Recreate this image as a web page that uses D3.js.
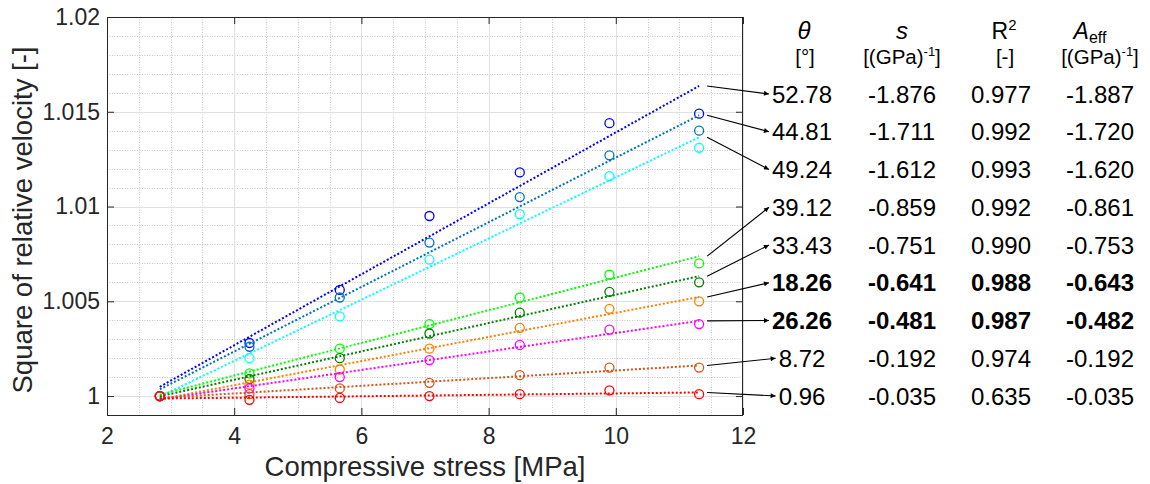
<!DOCTYPE html>
<html><head><meta charset="utf-8">
<script src="https://cdn.jsdelivr.net/npm/d3@7"></script>
<style>
body{margin:0;background:#fff}
text{font-family:"Liberation Sans",Arial,Helvetica,sans-serif}
</style>
</head><body>
<svg id="c" width="1150" height="484"></svg>
<script>
// ---------- data ----------
const stress = [2.83, 4.24, 5.66, 7.07, 8.49, 9.90, 11.31];
const v5278 = [1.0000, 1.0028, 1.0056, 1.0095, 1.0118, 1.0144, 1.0149];
const v4481 = [1.0000, 1.0026, 1.0052, 1.0081, 1.0105, 1.0127, 1.0140];
const v4924 = [1.0000, 1.0020, 1.0042, 1.0072, 1.0096, 1.0116, 1.0131];
const v3912 = [1.0000, 1.0012, 1.0025, 1.0038, 1.0052, 1.0064, 1.0070];
const v3343 = [1.0000, 1.0009, 1.0020, 1.0033, 1.0044, 1.0055, 1.0060];
const v1826 = [1.0000, 1.0006, 1.0014, 1.0025, 1.0036, 1.0046, 1.0050];
const v2626 = [1.0000, 1.0004, 1.0010, 1.0019, 1.0027, 1.0035, 1.0038];
const v872  = [1.0000, 1.0001, 1.0004, 1.0007, 1.0011, 1.0015, 1.0015];
const v096  = [1.0000, 0.9998, 0.9999, 1.0000, 1.0001, 1.0003, 1.0001];
const seriesValues = [v5278, v4481, v4924, v3912, v3343, v1826, v2626, v872, v096];
const seriesColors = ["#0000ff","#0072bd","#00ffff","#00ff00","#008000","#ff8000","#ff00ff","#d95319","#ff0000"];

const thetaLabels = ["52.78","44.81","49.24","39.12","33.43","18.26","26.26","8.72","0.96"];
const sLabels     = ["-1.876","-1.711","-1.612","-0.859","-0.751","-0.641","-0.481","-0.192","-0.035"];
const r2Labels    = ["0.977","0.992","0.993","0.992","0.990","0.988","0.987","0.974","0.635"];
const aeffLabels  = ["-1.887","-1.720","-1.620","-0.861","-0.753","-0.643","-0.482","-0.192","-0.035"];
const boldRows    = ["18.26","26.26"];

const xTicks = [2, 4, 6, 8, 10, 12];
const yTicks = [1, 1.005, 1.01, 1.015, 1.02];
const xLabel = "Compressive stress [MPa]";
const yLabel = "Square of relative velocity [-]";

// ---------- layout ----------
const L = 107, R = 743, T = 17, B = 415;
const svg = d3.select("#c");
const x = d3.scaleLinear().domain([2, 12]).range([L, R]);
const y = d3.scaleLinear().domain([0.999, 1.02]).range([B, T]);
const axisColor = "#262626";
const px = v => Math.round(v) + 0.5;

// grid
const gGrid = svg.append("g");
const xMinor = d3.range(2, 12.001, 0.5).filter(v => !xTicks.some(t => Math.abs(t - v) < 1e-9));
const yMinor = d3.range(0, 22).map(i => 0.999 + i * 0.001).filter(v => !yTicks.some(t => Math.abs(t - v) < 1e-9));
gGrid.selectAll(".xm").data(xMinor).join("line")
  .attr("x1", d => px(x(d))).attr("x2", d => px(x(d))).attr("y1", T).attr("y2", B)
  .attr("stroke", "#c8c8c8").attr("stroke-width", 1).attr("stroke-dasharray", "1,1.5");
gGrid.selectAll(".ym").data(yMinor).join("line")
  .attr("y1", d => px(y(d))).attr("y2", d => px(y(d))).attr("x1", L).attr("x2", R)
  .attr("stroke", "#c8c8c8").attr("stroke-width", 1).attr("stroke-dasharray", "1,1.5");
gGrid.selectAll(".xM").data(xTicks).join("line")
  .attr("x1", d => px(x(d))).attr("x2", d => px(x(d))).attr("y1", T).attr("y2", B)
  .attr("stroke", "#e0e0e0").attr("stroke-width", 1);
gGrid.selectAll(".yM").data(yTicks).join("line")
  .attr("y1", d => px(y(d))).attr("y2", d => px(y(d))).attr("x1", L).attr("x2", R)
  .attr("stroke", "#e0e0e0").attr("stroke-width", 1);

// least squares fit
function fit(xs, ys) {
  const mx = d3.mean(xs), my = d3.mean(ys);
  const sxy = d3.sum(xs, (v, i) => (v - mx) * (ys[i] - my));
  const sxx = d3.sum(xs, v => (v - mx) * (v - mx));
  const b = sxy / sxx;
  return v => my + b * (v - mx);
}
const fits = seriesValues.map(vs => fit(stress, vs));
const xEnds = [stress[0], stress[stress.length - 1]];

const gData = svg.append("g");
seriesValues.forEach((vs, i) => {
  const f = fits[i];
  gData.append("path")
    .datum(xEnds)
    .attr("d", d3.line().x(d => x(d)).y(d => y(f(d))))
    .attr("fill", "none").attr("stroke", seriesColors[i])
    .attr("stroke-width", 2).attr("stroke-dasharray", "2,2");
  gData.selectAll(null).data(vs).join("circle")
    .attr("cx", (d, j) => x(stress[j])).attr("cy", d => y(d)).attr("r", 4.5)
    .attr("fill", "none").attr("stroke", seriesColors[i]).attr("stroke-width", 1.3);
});

// box
svg.append("rect").attr("x", L + 0.5).attr("y", T + 0.5).attr("width", R - L - 1).attr("height", B - T)
  .attr("fill", "none").attr("stroke", axisColor).attr("stroke-width", 1);

// axes
const fs = 23;
const xa = svg.append("g").attr("transform", `translate(0,${B})`)
  .call(d3.axisBottom(x).tickValues(xTicks).tickSize(-7).tickPadding(13).tickFormat(d3.format("d")));
const xt = svg.append("g").attr("transform", `translate(0,${T})`)
  .call(d3.axisTop(x).tickValues(xTicks).tickSize(-7).tickFormat(""));
const ya = svg.append("g").attr("transform", `translate(${L},0)`)
  .call(d3.axisLeft(y).tickValues(yTicks).tickSize(-7).tickPadding(7).tickFormat(d => String(+d.toFixed(3))));
const yr = svg.append("g").attr("transform", `translate(${R},0)`)
  .call(d3.axisRight(y).tickValues(yTicks).tickSize(-7).tickFormat(""));
[xa, xt, ya, yr].forEach(g => {
  g.select(".domain").remove();
  g.selectAll(".tick line").attr("stroke", axisColor);
  g.selectAll(".tick text").attr("fill", axisColor).style("font-size", fs + "px")
    .style("font-family", '"Liberation Sans",Arial,sans-serif');
});

// axis labels
svg.append("text").attr("x", (L + R) / 2).attr("y", 476).attr("text-anchor", "middle")
  .attr("fill", axisColor).style("font-size", "27.5px").text(xLabel);
svg.append("text").attr("transform", `translate(22,${(T + B) / 2 + 4}) rotate(-90)`)
  .attr("text-anchor", "middle").attr("dy", "0.35em")
  .attr("fill", axisColor).style("font-size", "27.5px").text(yLabel);

// ---------- table ----------
const colX = [802, 902, 1001, 1100];
const rowY = d3.scalePoint().domain(thetaLabels).range([94, 396]);
const tfs = 24;
const gT = svg.append("g");
const cols = [thetaLabels, sLabels, r2Labels, aeffLabels];
const thetaTexts = [];
cols.forEach((arr, c) => {
  arr.forEach((lab, r) => {
    const t = gT.append("text").attr("x", colX[c]).attr("y", rowY(thetaLabels[r]))
      .attr("dy", "0.36em").attr("text-anchor", "middle")
      .style("font-size", tfs + "px")
      .style("font-weight", boldRows.includes(thetaLabels[r]) ? "bold" : "normal")
      .attr("fill", "#000").text(lab);
    if (c === 0) thetaTexts.push(t);
  });
});

// headers
const h1 = 39, h2 = 64;
gT.append("text").attr("x", 804).attr("y", h1).attr("text-anchor", "middle")
  .style("font-size", "24px").style("font-style", "italic").text("θ");
gT.append("text").attr("x", 902).attr("y", h1).attr("text-anchor", "middle")
  .style("font-size", "24px").style("font-style", "italic").text("s");
const r2h = gT.append("text").attr("x", 1004).attr("y", h1).attr("text-anchor", "middle").style("font-size", "23px");
r2h.append("tspan").text("R");
r2h.append("tspan").attr("dy", -9).style("font-size", "15px").text("2");
const ah = gT.append("text").attr("x", 1090).attr("y", h1).attr("text-anchor", "middle").style("font-size", "23px");
ah.append("tspan").style("font-style", "italic").text("A");
ah.append("tspan").attr("dy", 4).style("font-size", "16px").text("eff");

function unitGPa(cx) {
  const t = gT.append("text").attr("x", cx).attr("y", h2).attr("text-anchor", "middle").style("font-size", "20.5px");
  t.append("tspan").text("[(GPa)");
  t.append("tspan").attr("dy", -8).style("font-size", "13px").text("-1");
  t.append("tspan").attr("dy", 8).text("]");
}
gT.append("text").attr("x", 805).attr("y", h2).attr("text-anchor", "middle").style("font-size", "20.5px").text("[°]");
unitGPa(902);
gT.append("text").attr("x", 1005).attr("y", h2).attr("text-anchor", "middle").style("font-size", "20.5px").text("[-]");
unitGPa(1100);

// ---------- arrows ----------
svg.append("defs").append("marker").attr("id", "ah")
  .attr("viewBox", "0 0 10 10").attr("refX", 10).attr("refY", 5)
  .attr("markerWidth", 8).attr("markerHeight", 5).attr("markerUnits", "userSpaceOnUse")
  .attr("orient", "auto")
  .append("path").attr("d", "M0,0 L10,5 L0,10 Z").attr("fill", "#000");

const xEnd = stress[stress.length - 1];
thetaLabels.forEach((lab, i) => {
  const w = thetaTexts[i].node().getComputedTextLength();
  const x1 = x(xEnd) + 8, y1 = y(fits[i](xEnd));
  const x2 = colX[0] - w / 2 - 3, y2 = rowY(lab);
  svg.append("line").attr("x1", x1).attr("y1", y1).attr("x2", x2).attr("y2", y2)
    .attr("stroke", "#000").attr("stroke-width", 1.1).attr("marker-end", "url(#ah)");
});
</script>
</body></html>
